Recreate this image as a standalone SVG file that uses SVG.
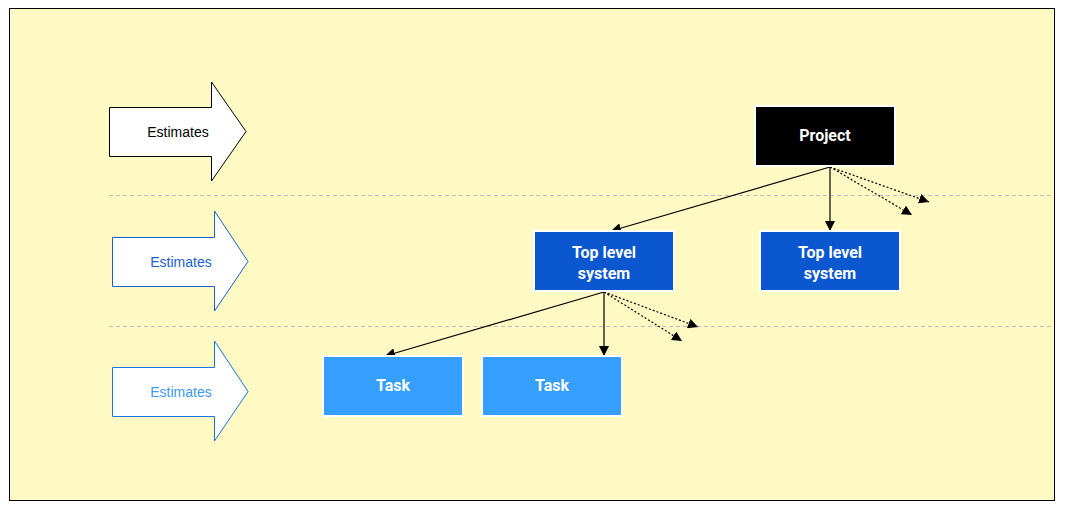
<svg xmlns="http://www.w3.org/2000/svg" width="1066" height="512" viewBox="0 0 1066 512">
<style>
.lbl{font-family:"Roboto","Liberation Sans",sans-serif;font-weight:bold;font-size:16px;fill:#fff;text-anchor:middle}
.est{font-family:"Liberation Sans",Arial,sans-serif;font-size:14px;text-anchor:middle}
.edge{stroke:#000;stroke-width:1.2;fill:none}
.dot{stroke:#000;stroke-width:1.2;fill:none;stroke-dasharray:2 2}
.sep{stroke:#bdbdbd;stroke-width:1;stroke-dasharray:4 3}
</style>
<defs>
<marker id="ah" viewBox="0 0 10 10" refX="10" refY="5" markerWidth="10" markerHeight="10" markerUnits="userSpaceOnUse" orient="auto">
<path d="M0,0 L10,5 L0,10 z" fill="#000"/>
</marker>
</defs>
<rect x="9.5" y="8.5" width="1045" height="492" fill="#FFF9C4" stroke="#000" stroke-width="1"/>
<line class="sep" x1="109" y1="195.5" x2="1054" y2="195.5"/>
<line class="sep" x1="109" y1="326.5" x2="1054" y2="326.5"/>
<g id="lane1">
<path d="M109.5,107.5 H211.5 V82 L246,131.5 L211.5,181 V156.5 H109.5 Z" fill="#fff" stroke="#000" stroke-width="1"/>
<text class="est" x="178" y="136.5" fill="#000">Estimates</text>
</g>
<g id="lane2">
<path d="M112.5,237.5 H214.5 V211 L248,261.5 L214.5,311 V286.5 H112.5 Z" fill="#fff" stroke="#1a5fd0" stroke-width="1"/>
<text class="est" x="181" y="266.5" fill="#1a5fd0">Estimates</text>
</g>
<g id="lane3">
<path d="M112.5,367.5 H214.5 V341 L248,391.5 L214.5,441 V416.5 H112.5 Z" fill="#fff" stroke="#1a73e8" stroke-width="1"/>
<text class="est" x="181" y="396.5" fill="#3d99f5">Estimates</text>
</g>
<g id="connectors">
<line class="edge" x1="830" y1="167" x2="611" y2="231" marker-end="url(#ah)"/>
<line class="edge" x1="830" y1="167" x2="830" y2="231" marker-end="url(#ah)"/>
<line class="dot" x1="830" y1="167" x2="929" y2="202" marker-end="url(#ah)"/>
<line class="dot" x1="830" y1="167" x2="912" y2="215" marker-end="url(#ah)"/>
<line class="edge" x1="604" y1="292" x2="385" y2="356" marker-end="url(#ah)"/>
<line class="edge" x1="604" y1="292" x2="604" y2="356" marker-end="url(#ah)"/>
<line class="dot" x1="604" y1="292" x2="698" y2="327" marker-end="url(#ah)"/>
<line class="dot" x1="604" y1="292" x2="682" y2="341" marker-end="url(#ah)"/>
</g>
<g id="project">
<rect x="755" y="106" width="140" height="60" fill="#000" stroke="#fff" stroke-width="2"/>
<text class="lbl" x="825" y="141">Project</text>
</g>
<g id="tls1">
<rect x="534" y="231" width="140" height="60" fill="#0b57d0" stroke="#fff" stroke-width="2"/>
<text class="lbl" x="604" y="258">Top level</text>
<text class="lbl" x="604" y="279">system</text>
</g>
<g id="tls2">
<rect x="760" y="231" width="140" height="60" fill="#0b57d0" stroke="#fff" stroke-width="2"/>
<text class="lbl" x="830" y="258">Top level</text>
<text class="lbl" x="830" y="279">system</text>
</g>
<g id="task1">
<rect x="323" y="356" width="140" height="60" fill="#369efd" stroke="#fff" stroke-width="2"/>
<text class="lbl" x="393" y="391">Task</text>
</g>
<g id="task2">
<rect x="482" y="356" width="140" height="60" fill="#369efd" stroke="#fff" stroke-width="2"/>
<text class="lbl" x="552" y="391">Task</text>
</g>
</svg>
